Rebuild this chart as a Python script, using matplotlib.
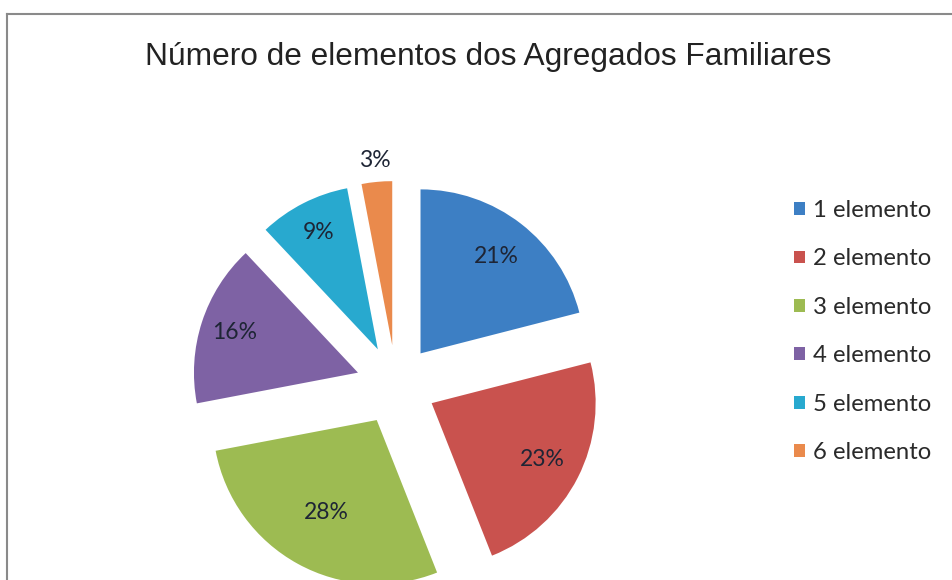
import numpy as np
import matplotlib
matplotlib.use("Agg")
import matplotlib.pyplot as plt
from matplotlib.lines import Line2D

title = "Número de elementos dos Agregados Familiares"
categories = ["1 elemento", "2 elemento", "3 elemento", "4 elemento", "5 elemento", "6 elemento"]
values = [21, 23, 28, 16, 9, 3]
pct_labels = ["21%", "23%", "28%", "16%", "9%", "3%"]

colors = ["#3d7fc4", "#c9524e", "#9dbb52", "#7e62a4", "#28a9cf", "#ea8a4c"]
label_dist = [0.75, 0.76, 0.64, 0.79, 0.80, 1.13]

W, H = 953, 580
fig = plt.figure(figsize=(W / 100, H / 100), dpi=100)
ax = fig.add_axes([0, 0, 1, 1])

R = 164
cx, cy = 396, H - 385
wedges, _ = ax.pie(values, colors=colors, startangle=90, counterclock=False,
                   radius=R, center=(cx, cy), explode=[40] * len(values),
                   frame=True, wedgeprops=dict(linewidth=0))
ax.set_xlim(0, W)
ax.set_ylim(0, H)
ax.set_aspect("equal")
ax.axis("off")

for w, lab, d in zip(wedges, pct_labels, label_dist):
    ang = np.deg2rad((w.theta1 + w.theta2) / 2)
    x = w.center[0] + d * w.r * np.cos(ang)
    y = w.center[1] + d * w.r * np.sin(ang)
    ax.text(x, y, lab, ha="center", va="center", fontsize=16.5,
            family="Lato", color="#1e2535")

fig.text(488 / W, 1 - 57 / H, title, ha="center", va="center",
         fontsize=22.8, family="Liberation Sans", color="#222222")

leg = fig.legend(wedges, categories, loc="upper left",
                 bbox_to_anchor=(794 / W, 1 - 200 / H), frameon=False,
                 prop=dict(family="Lato", size=17.2), handlelength=0.45,
                 handleheight=0.45, handletextpad=0.33, labelspacing=1.15,
                 borderpad=0, borderaxespad=0, labelcolor="#2a2a2a")

fig.add_artist(Line2D([7 / W, 7 / W], [0, 1 - 14 / H], transform=fig.transFigure,
                      color="#8a8a8a", linewidth=1.5))
fig.add_artist(Line2D([7 / W, 1], [1 - 14 / H, 1 - 14 / H], transform=fig.transFigure,
                      color="#8a8a8a", linewidth=1.5))

fig.savefig("out.png", dpi=100)
